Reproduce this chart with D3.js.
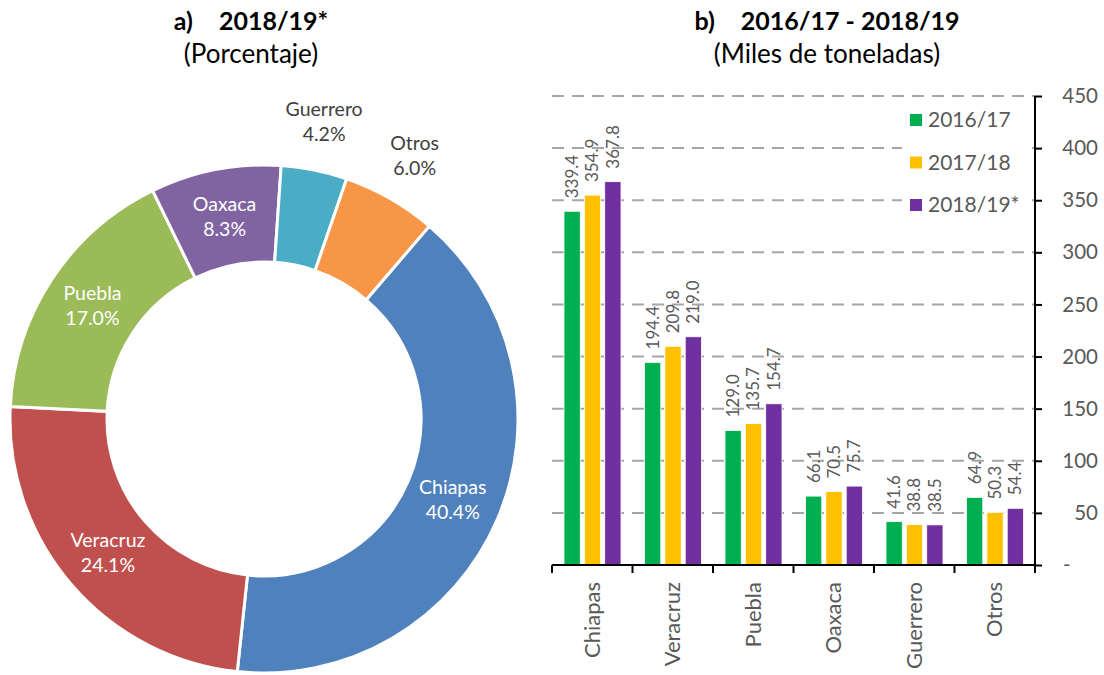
<!DOCTYPE html>
<html>
<head>
<meta charset="utf-8">
<script src="https://cdn.jsdelivr.net/npm/d3@7"></script>
<style>
  body { margin: 0; background: #fff; }
  svg { font-family: Lato, "Open Sans", sans-serif; }
</style>
</head>
<body>
<svg id="chart" width="1104" height="675"></svg>
<script>
// panel a) shares 2018/19*
const states = ["Chiapas", "Veracruz", "Puebla", "Oaxaca", "Guerrero", "Otros"];
const shares = [40.4, 24.1, 17.0, 8.3, 4.2, 6.0];
const pieColors = ["#4F81BD", "#C0504D", "#9BBB59", "#8064A2", "#4BACC6", "#F79646"];
const outsideLabel = [false, false, false, false, true, true];

// panel b) miles de toneladas
const seasons = ["2016/17", "2017/18", "2018/19*"];
const v1617 = [339.4, 194.4, 129.0, 66.1, 41.6, 64.9];
const v1718 = [354.9, 209.8, 135.7, 70.5, 38.8, 50.3];
const v1819 = [367.8, 219.0, 154.7, 75.7, 38.5, 54.4];
const barColors = ["#00B050", "#FFC000", "#7030A0"];
const yTicks = [0, 50, 100, 150, 200, 250, 300, 350, 400, 450];

const svg = d3.select("#chart");
const gray = "#595959";

// ---------- titles ----------
function title(cx, tag, bold, sub) {
  const t = svg.append("text").attr("x", cx).attr("y", 30)
    .attr("text-anchor", "middle").attr("font-size", 25).attr("font-weight", "bold");
  t.append("tspan").text(tag);
  t.append("tspan").attr("dx", 26).text(bold);
  svg.append("text").attr("x", cx).attr("y", 63)
    .attr("text-anchor", "middle").attr("font-size", 26).text(sub);
}
title(251, "a)", "2018/19*", "(Porcentaje)");
title(827, "b)", "2016/17 - 2018/19", "(Miles de toneladas)");

// ---------- donut ----------
const pcx = 264, pcy = 419, rOut = 254, rIn = 157;
const a0 = 40.6 * Math.PI / 180;
const pie = d3.pie().sort(null).startAngle(a0).endAngle(a0 + 2 * Math.PI);
const arcs = pie(shares);
const arc = d3.arc().innerRadius(rIn).outerRadius(rOut);
const labArc = d3.arc().innerRadius(303).outerRadius(303);
const fmt = d3.format(".1f");

const gp = svg.append("g").attr("transform", `translate(${pcx},${pcy})`);
gp.selectAll("path").data(arcs).join("path")
  .attr("d", arc)
  .attr("fill", (d, i) => pieColors[i])
  .attr("stroke", "#fff").attr("stroke-width", 3);

const pl = gp.selectAll("text.pl").data(arcs).join("text")
  .attr("class", "pl")
  .attr("text-anchor", "middle")
  .attr("font-size", 19.5)
  .attr("fill", (d, i) => outsideLabel[i] ? "#404040" : "#fff")
  .attr("transform", (d, i) => {
    const c = outsideLabel[i] ? labArc.centroid(d) : arc.centroid(d);
    return `translate(${c[0]},${c[1]})`;
  });
pl.append("tspan").attr("x", 0).attr("y", -6).text((d, i) => states[i]);
pl.append("tspan").attr("x", 0).attr("y", 19).text((d, i) => fmt(shares[i]) + "%");

// ---------- bars ----------
const xLeft = 552, xRight = 1035, yTop = 96, yBase = 565;
const x0 = d3.scaleBand().domain(states).range([xLeft, xRight]);
const x1 = d3.scaleBand().domain(seasons).range([12, 69]).paddingInner(0.2);
const y = d3.scaleLinear().domain([0, 450]).range([yBase, yTop]);
const series = [v1617, v1718, v1819];

const gb = svg.append("g");

// dashed gridlines
gb.selectAll("line.grid").data(yTicks.filter(d => d > 0)).join("line")
  .attr("class", "grid")
  .attr("x1", xLeft).attr("x2", xRight)
  .attr("y1", d => y(d)).attr("y2", d => y(d))
  .attr("stroke", "#A6A6A6").attr("stroke-width", 2)
  .attr("stroke-dasharray", "12,8");

// legend background hides gridlines
gb.append("rect").attr("x", 902).attr("y", 100).attr("width", 127).attr("height", 124)
  .attr("fill", "#fff");

const groups = gb.selectAll("g.grp").data(states).join("g")
  .attr("class", "grp")
  .attr("transform", d => `translate(${x0(d)},0)`);

groups.selectAll("rect").data((s, i) => seasons.map((k, j) => ({ k, j, v: series[j][i] })))
  .join("rect")
  .attr("x", d => x1(d.k)).attr("width", x1.bandwidth())
  .attr("y", d => y(d.v)).attr("height", d => yBase - y(d.v))
  .attr("fill", d => barColors[d.j])
  .attr("stroke", "#fff").attr("stroke-width", 0.8);

groups.selectAll("text").data((s, i) => seasons.map((k, j) => ({ k, j, v: series[j][i] })))
  .join("text")
  .attr("transform", d => `translate(${x1(d.k) + x1.bandwidth() / 2},${y(d.v) - 13}) rotate(-90)`)
  .attr("dy", "0.35em")
  .attr("font-size", 17)
  .attr("fill", gray)
  .text(d => fmt(d.v));

// x axis: baseline, boundary ticks, rotated labels
gb.append("line").attr("x1", xLeft).attr("x2", xRight + 1).attr("y1", yBase).attr("y2", yBase)
  .attr("stroke", "#000").attr("stroke-width", 2);
const bounds = states.map(s => x0(s)).concat([xRight]);
gb.selectAll("line.xt").data(bounds).join("line")
  .attr("class", "xt")
  .attr("x1", d => d).attr("x2", d => d).attr("y1", yBase).attr("y2", yBase + 8)
  .attr("stroke", "#000").attr("stroke-width", 2);
gb.selectAll("text.xl").data(states).join("text")
  .attr("class", "xl")
  .attr("transform", d => `translate(${x0(d) + x0.bandwidth() / 2},${yBase + 17}) rotate(-90)`)
  .attr("text-anchor", "end").attr("dy", "0.35em")
  .attr("font-size", 22).attr("fill", gray)
  .text(d => d);

// y axis on the right
const yAxis = gb.append("g").attr("transform", `translate(${xRight},0)`)
  .call(d3.axisRight(y).tickValues(yTicks).tickSize(7).tickFormat(d => d === 0 ? "-" : d));
yAxis.select(".domain").attr("stroke", "#000").attr("stroke-width", 2)
  .attr("d", `M0,${yTop}V${yBase}`);
yAxis.selectAll(".tick line").attr("stroke", "#000").attr("stroke-width", 2);
yAxis.selectAll(".tick text")
  .attr("font-family", "Lato, sans-serif").attr("font-size", 20.5).attr("fill", gray)
  .attr("text-anchor", d => d === 0 ? "start" : "end")
  .attr("x", d => d === 0 ? 28 : 63);

// legend
const lg = gb.selectAll("g.lg").data(seasons).join("g")
  .attr("class", "lg")
  .attr("transform", (d, i) => `translate(910,${120 + i * 42.5})`);
lg.append("rect").attr("x", 0).attr("y", -6).attr("width", 12).attr("height", 12)
  .attr("fill", (d, i) => barColors[i]);
lg.append("text").attr("x", 18).attr("dy", "0.35em")
  .attr("font-size", 21).attr("fill", gray).text(d => d);
</script>
</body>
</html>
